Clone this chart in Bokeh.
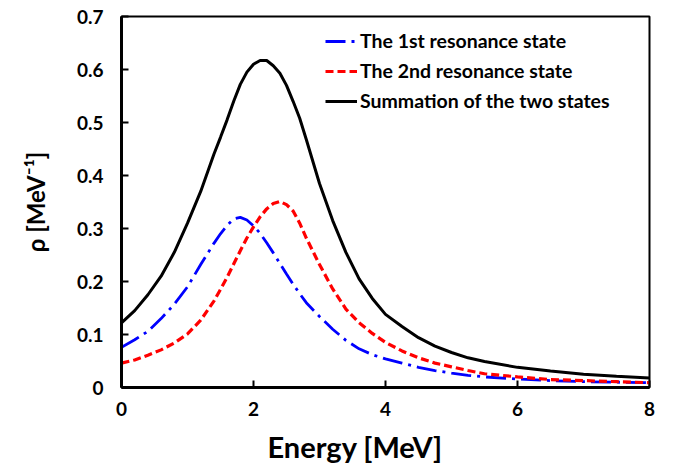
from bokeh.plotting import figure
from bokeh.models import Range1d, FixedTicker, CustomJSTickFormatter, Legend, LegendItem, Title
from bokeh.embed import file_html
from bokeh.resources import INLINE

energy = [0.0, 0.2, 0.4, 0.6, 0.8, 1.0, 1.2, 1.4, 1.5, 1.6, 1.7, 1.8, 1.9, 2.0, 2.1, 2.2, 2.3, 2.4,
          2.5, 2.6, 2.7, 2.8, 3.0, 3.2, 3.4, 3.6, 3.8, 4.0, 4.25, 4.5, 4.75, 5.0, 5.25, 5.5, 6.0,
          6.5, 7.0, 7.5, 8.0]

rho_1st = [0.076, 0.090, 0.106, 0.130, 0.157, 0.190, 0.232, 0.272, 0.290, 0.306, 0.318, 0.321, 0.316,
           0.305, 0.291, 0.273, 0.254, 0.234, 0.214, 0.195, 0.177, 0.160, 0.134, 0.110, 0.089, 0.073,
           0.062, 0.054, 0.046, 0.038, 0.032, 0.027, 0.023, 0.020, 0.016, 0.013, 0.011, 0.010, 0.009]

rho_2nd = [0.046, 0.052, 0.061, 0.071, 0.084, 0.101, 0.127, 0.163, 0.185, 0.208, 0.233, 0.258, 0.282,
           0.303, 0.322, 0.337, 0.347, 0.351, 0.345, 0.333, 0.310, 0.282, 0.232, 0.186, 0.148, 0.122,
           0.102, 0.085, 0.069, 0.056, 0.046, 0.039, 0.032, 0.026, 0.020, 0.015, 0.013, 0.011, 0.009]

rho_sum = [0.122, 0.145, 0.175, 0.210, 0.255, 0.310, 0.370, 0.440, 0.472, 0.505, 0.540, 0.572, 0.595,
           0.610, 0.617, 0.617, 0.607, 0.593, 0.570, 0.540, 0.508, 0.468, 0.385, 0.315, 0.255, 0.205,
           0.168, 0.138, 0.115, 0.094, 0.078, 0.066, 0.056, 0.049, 0.038, 0.031, 0.025, 0.021, 0.018]

x_ticks = [0, 2, 4, 6, 8]
y_ticks = [0, 0.1, 0.2, 0.3, 0.4, 0.5, 0.6, 0.7]

labels = ["The 1st resonance state", "The 2nd resonance state", "Summation of the two states"]

FONT = "Lato"

p = figure(width=662, height=474, output_backend="svg", toolbar_location=None,
           x_range=Range1d(0, 8), y_range=Range1d(0, 0.7),
           min_border_left=121, min_border_right=13, min_border_top=16, min_border_bottom=87)

p.background_fill_color = "white"
p.border_fill_color = "white"
p.outline_line_color = "black"
p.outline_line_width = 2
p.xgrid.grid_line_color = None
p.ygrid.grid_line_color = None

r1 = p.line(energy, rho_1st, line_color="#0000ff", line_width=2.8, line_dash="20 6 3 6")
r2 = p.line(energy, rho_2nd, line_color="#ff0000", line_width=3.2, line_dash="8 4")
r3 = p.line(energy, rho_sum, line_color="black", line_width=3)

for ax in (p.xaxis[0], p.yaxis[0]):
    ax.axis_line_width = 3
    ax.axis_line_color = "black"
    ax.major_tick_in = 7
    ax.major_tick_out = 0
    ax.major_tick_line_width = 2
    ax.minor_tick_line_color = None
    ax.major_label_text_font = FONT
    ax.major_label_text_font_style = "bold"
    ax.major_label_text_font_size = "19px"
    ax.major_label_text_color = "black"

p.xaxis.ticker = FixedTicker(ticks=x_ticks)
p.yaxis.ticker = FixedTicker(ticks=y_ticks)
p.yaxis.formatter = CustomJSTickFormatter(code="return tick == 0 ? '0' : tick.toFixed(1);")
p.xaxis.major_label_standoff = 14
p.yaxis.major_label_standoff = 18

p.yaxis.axis_label = "\u03c1 [MeV\u207b\u00b9]"
p.yaxis.axis_label_text_font = FONT
p.yaxis.axis_label_text_font_style = "bold"
p.yaxis.axis_label_text_font_size = "24px"
p.yaxis.axis_label_text_color = "black"
p.yaxis.axis_label_standoff = 24

xt = Title(text="Energy [MeV]", align="left", offset=146, standoff=16,
           text_font=FONT, text_font_style="bold", text_font_size="29px", text_color="black")
p.add_layout(xt, "below")

legend = Legend(items=[LegendItem(label=labels[0], renderers=[r1]),
                       LegendItem(label=labels[1], renderers=[r2]),
                       LegendItem(label=labels[2], renderers=[r3])],
                location=(204, 275))
legend.border_line_color = None
legend.background_fill_alpha = 0
legend.padding = 0
legend.margin = 0
legend.spacing = 7
legend.glyph_width = 32
legend.glyph_height = 20
legend.label_height = 20
legend.label_standoff = 3
legend.label_text_font = FONT
legend.label_text_font_style = "bold"
legend.label_text_font_size = "19.5px"
legend.label_text_color = "black"
p.add_layout(legend)

open("out.html", "w").write(file_html(p, INLINE))
